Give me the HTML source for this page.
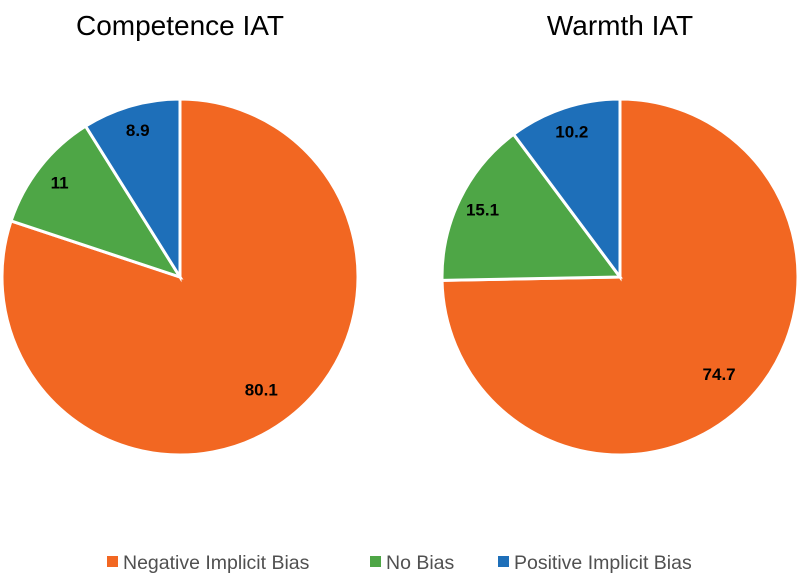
<!DOCTYPE html>
<html><head><meta charset="utf-8"><style>
body{margin:0;background:#fff;width:800px;height:577px;overflow:hidden;font-family:"Liberation Sans",sans-serif}
</style></head><body>
<svg width="800" height="577" viewBox="0 0 800 577">
<g id="pies"></g>
<g font-size="19.5" fill="#505050">
<g><rect x="107" y="556" width="11" height="11" fill="#f26722"/><text x="123" y="569">Negative  Implicit Bias</text></g>
<g><rect x="370" y="556" width="11" height="11" fill="#4ea646"/><text x="386" y="569">No Bias</text></g>
<g><rect x="498" y="556" width="11" height="11" fill="#1e6fb9"/><text x="514" y="569">Positive Implicit Bias</text></g>
</g>
</svg>
<script>
const titles=["Competence IAT","Warmth IAT"];
const categories=["Negative Implicit Bias","No Bias","Positive Implicit Bias"];
const competenceValues=[80.1,11,8.9];
const warmthValues=[74.7,15.1,10.2];
const colors=["#f26722","#4ea646","#1e6fb9"];
const NS="http://www.w3.org/2000/svg";
const g=document.getElementById('pies');
function pie(cx,cy,r,vals,title){
  const t=document.createElementNS(NS,'text');
  t.setAttribute('x',cx);t.setAttribute('y',35);t.setAttribute('text-anchor','middle');
  t.setAttribute('font-size','28');t.setAttribute('fill','#000');t.textContent=title;
  
  
  g.appendChild(t);
  const tot=vals.reduce((a,b)=>a+b,0);let a0=0;
  vals.forEach((v,i)=>{
    const a1=a0+v/tot*2*Math.PI;
    const p=a=>[cx+r*Math.sin(a),cy-r*Math.cos(a)];
    const [x0,y0]=p(a0),[x1,y1]=p(a1);
    const path=document.createElementNS(NS,'path');
    path.setAttribute('d',`M${cx},${cy}L${x0},${y0}A${r},${r} 0 ${a1-a0>Math.PI?1:0} 1 ${x1},${y1}Z`);
    path.setAttribute('fill',colors[i]);path.setAttribute('stroke','#fff');path.setAttribute('stroke-width','3');
    
    
    g.appendChild(path);
    const am=(a0+a1)/2;const lr=i==0?r*0.78:r*0.86;
    const tx=document.createElementNS(NS,'text');
    tx.setAttribute('x',cx+lr*Math.sin(am));tx.setAttribute('y',cy-lr*Math.cos(am)+6);
    tx.setAttribute('text-anchor','middle');tx.setAttribute('font-size','17');tx.setAttribute('font-weight','bold');
    tx.textContent=String(v);
    
    
    g.appendChild(tx);
    a0=a1;
  });
}
pie(180,277,178,competenceValues,titles[0]);
pie(620,277,178,warmthValues,titles[1]);
</script>
</body></html>
